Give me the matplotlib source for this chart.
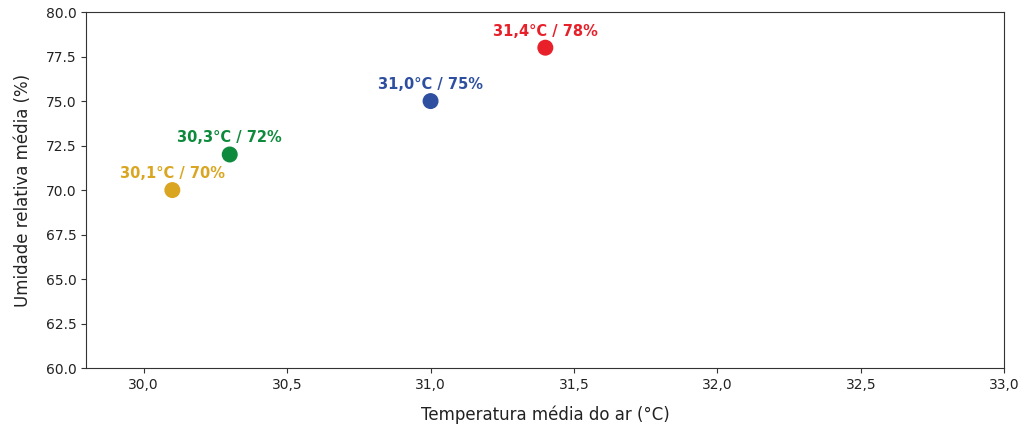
import matplotlib.pyplot as plt
from matplotlib.ticker import FuncFormatter

temperatura = [30.1, 30.3, 31.0, 31.4]
umidade = [70, 72, 75, 78]
rotulos = ["30,1°C / 70%", "30,3°C / 72%", "31,0°C / 75%", "31,4°C / 78%"]
cores = ["#DAA520", "#0E8A3C", "#2E4FA0", "#E8202A"]

fig, ax = plt.subplots(figsize=(10.27, 4.32), dpi=100)
fig.subplots_adjust(left=0.084, right=0.978, top=0.972, bottom=0.148)

ax.scatter(temperatura, umidade, c=cores, s=110, zorder=3)
for t, u, r, c in zip(temperatura, umidade, rotulos, cores):
    ax.annotate(r, (t, u), xytext=(0, 6.5), textcoords="offset points",
                ha="center", va="bottom", color=c, fontsize=10.5, fontweight="bold")

ax.set_xlim(29.8, 33.0)
ax.set_ylim(60, 80)
ax.set_xticks([30.0, 30.5, 31.0, 31.5, 32.0, 32.5, 33.0])
ax.set_yticks([60, 62.5, 65, 67.5, 70, 72.5, 75, 77.5, 80])
ax.xaxis.set_major_formatter(FuncFormatter(lambda v, p: f"{v:.1f}".replace(".", ",")))
ax.yaxis.set_major_formatter(FuncFormatter(lambda v, p: f"{v:.1f}"))
ax.tick_params(colors="#333333", labelcolor="#222222")
for s in ax.spines.values():
    s.set_color("#333333")
ax.set_xlabel("Temperatura média do ar (°C)", fontsize=12, labelpad=10, color="#222222")
ax.set_ylabel("Umidade relativa média (%)", fontsize=12, labelpad=10, color="#222222")

fig.savefig("out.png")
